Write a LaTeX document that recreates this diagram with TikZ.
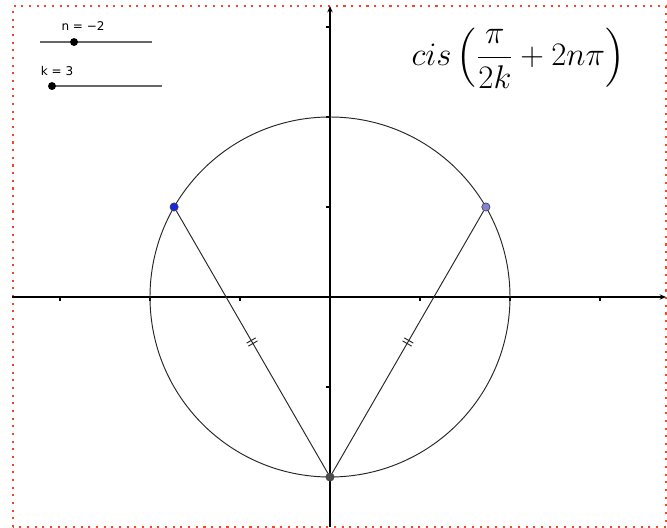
\documentclass[tikz,border=0pt]{standalone}
\usepackage{amsmath}
\usepackage{fontspec}
\usetikzlibrary{arrows.meta,calc,positioning,decorations.markings}
\newfontfamily\uifont{DejaVu Sans}
\definecolor{framered}{RGB}{244,70,40}
\definecolor{ptblue}{RGB}{20,40,230}
\definecolor{ptlilac}{RGB}{130,130,215}

\begin{document}
\begin{tikzpicture}[
  x=2cm,y=2cm,
  >={Stealth[length=4pt,width=3.4pt]},
  axis/.style={->,line width=0.75pt,draw=black},
  tick/.style={line width=0.75pt,draw=black},
  ring/.style={line width=0.6pt,draw=black!85},
  chord/.style={line width=0.6pt,draw=black!85},
  pt/.style={circle,draw=black!75,line width=0.4pt,inner sep=0pt,minimum size=5.2pt},
  knob/.style={circle,fill=black,inner sep=0pt,minimum size=5pt},
  slider/.style={line width=1pt,draw=black!60},
  sliderlab/.style={font=\uifont\fontsize{7.6}{9}\selectfont,inner sep=0pt},
  eqmark/.style={postaction={decorate},decoration={markings,
    mark=at position 0.5 with {\draw[line width=0.6pt] (-1.1pt,-3.3pt) -- (-1.1pt,3.3pt) (1.1pt,-3.3pt) -- (1.1pt,3.3pt);}}}
]
\useasboundingbox (-3.6667,-2.5667) rectangle (3.7444,3.3);
% frame
\draw[framered,line width=1.3pt,dash pattern=on 1.3pt off 3.55pt]
  (-3.522,-2.556) rectangle (3.733,3.233);
% axes
\coordinate (xl) at (-3.53,0);
\coordinate (xr) at (3.733,0);
\coordinate (yb) at (0,-2.556);
\coordinate (yt) at (0,3.233);
\draw[axis] (xl) -- (xr);
\draw[axis] (yb) -- (yt);
\foreach \t in {-3,-2,-1,1,2,3}{
  \draw[tick] (\t,0) -- (\t,-0.045);
}
\foreach \t in {-2,-1,1,2,3}{
  \draw[tick] (0,\t) -- (-0.045,\t);
}
% circle and roots
\draw[ring] (0,0) circle (2);
\node[pt,fill=ptblue] (P1) at (150:2) {};
\node[pt,fill=ptlilac] (P2) at (30:2) {};
\node[pt,fill=black!70] (P0) at (270:2) {};
\draw[chord,eqmark] (P0) -- (P1);
\draw[chord,eqmark] (P0) -- (P2);
% sliders
\coordinate (nL) at (-3.222,2.833);
\coordinate (nR) at (-1.978,2.833);
\coordinate (kL) at (-3.122,2.344);
\coordinate (kR) at (-1.867,2.344);
\draw[slider] (nL) -- (nR);
\draw[slider] (kL) -- (kR);
\node[knob] (nK) at (-2.844,2.833) {};
\node[knob] (kK) at (-3.089,2.344) {};
\node[sliderlab] (nLab) at (-2.744,3.011) {n = −2};
\node[sliderlab] (kLab) at (-3.033,2.511) {k = 3};
% formula
\node[font=\fontsize{21.7}{26}\selectfont,inner sep=0pt] (F) at (2.09,2.655)
  {$\displaystyle cis\left(\frac{\pi}{2k}+2n\pi\right)$};
\end{tikzpicture}
\end{document}
